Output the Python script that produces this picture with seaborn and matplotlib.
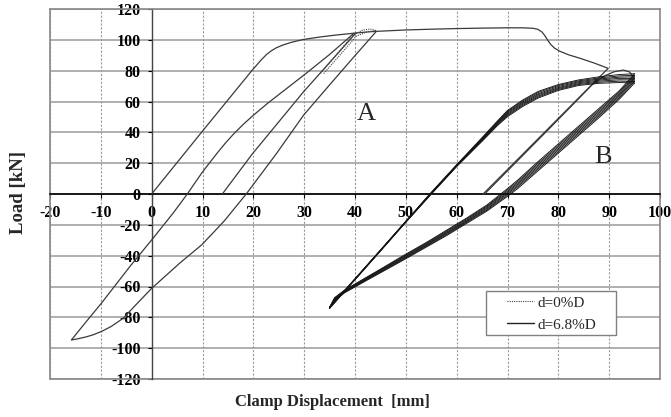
import numpy as np
import pandas as pd
import matplotlib
matplotlib.use("Agg")
import matplotlib.pyplot as plt
import seaborn as sns
from matplotlib.lines import Line2D
from matplotlib.patches import Rectangle

# ---------------- data ----------------
# initial loading -> plateau -> drop -> unloading (solid, d=6.8%D)
x_init = [0, 9.9, 19.8, 21.5, 22.6, 23.5, 24.5, 25.8, 27.5, 29.8, 33, 36, 39.8, 42, 44.2, 50, 55,
          60, 65, 70, 73, 75, 76, 76.8, 77.4, 77.9, 78.5, 79.3, 80.3, 82, 84.3, 87, 89.8,
          84, 78, 72, 65.2]
y_init = [0, 40.4, 80.4, 86.8, 90.5, 92.8, 94.8, 96.6, 98.4, 100.2, 101.8, 103, 104.3, 105, 105.5,
          106.4, 106.9, 107.3, 107.6, 107.8, 107.8, 107.5, 106.8, 105, 102.5, 99.8, 97, 94.5,
          92.6, 90.3, 88, 85, 81.5, 62.3, 42.4, 22.5, 0]

# cycle A: unloading from 44 mm, reverse loading, reloading to 40 mm
x_aloop = [44.2, 39.8, 34.8, 29.9, 24.5, 18.6, 16.5, 14.4, 12, 9.8, 5.5, 0, -3, -5.6, -8, -9.9,
           -11.5, -12.9, -14.5, -15.8, -12.9, -9.9, -4.3, 0, 4.2, 7.1, 8.5, 9.9, 11.5, 13, 14.5,
           16, 17.9, 19.8, 22.8, 25.8, 29.9, 35, 39.8]
y_aloop = [105.5, 89, 70, 51.2, 26, 0, -8.5, -17, -25.5, -33.1, -44.9, -61.2, -71.5, -80.6, -86,
           -89.2, -91.3, -92.7, -93.9, -94.7, -82.9, -70.9, -47.1, -29.8, -12.5, 0.4, 7.2, 13.8,
           20.7, 27, 33, 38.5, 44.8, 50.5, 58.8, 66.5, 77, 90.5, 104.3]

# straight unloading branch from the 40 mm peak
x_a3 = [13.9, 19.8, 29.9, 39.8, 40.3]
y_a3 = [0, 26, 66.4, 103, 104.5]

# d=0%D (dotted)
x_d0 = [33.2, 36.5, 39.6, 41.5, 43, 44.2, 42.5, 40.3, 37, 33.8]
y_d0 = [78.3, 91, 103.1, 106.3, 107, 106, 105.3, 102.5, 90, 78]

# reloading towards cycle B
x_q = [65.5, 70, 77.5, 83, 86.6, 89, 91, 92.8, 94, 94.8]
y_q = [0, 15, 40, 58.5, 70.7, 76.5, 79.3, 80.4, 79.2, 76]

# cycle B: loading branches
x_load = [35, 40, 45, 50, 55, 60, 65, 68, 70, 73, 76, 80, 84, 88, 92, 95]
l1 = [-73.5, -55, -36.4, -17.7, 1, 19, 36.6, 47.3, 54.2, 61, 66.5, 71, 74, 76, 77.5, 78]
l2 = [-73.5, -55, -36.4, -17.7, 0.9, 18.8, 36.2, 46.8, 53.6, 60.3, 65.8, 70.4, 73.4, 75.3, 76.6, 77]
l3 = [-73.8, -55.2, -36.6, -17.9, 0.7, 18.6, 35.8, 46.3, 53.0, 59.6, 65.0, 69.7, 72.8, 74.6, 75.8, 76]
l4 = [-73.8, -55.3, -36.7, -18, 0.5, 18.4, 35.4, 45.8, 52.3, 58.9, 64.3, 69.0, 72.2, 73.9, 75.0, 75]
l5 = [-74, -55.4, -36.8, -18.1, 0.3, 18.2, 35.0, 45.3, 51.6, 58.2, 63.6, 68.4, 71.6, 73.2, 74.1, 74]
l6 = [-74, -55.5, -36.9, -18.2, 0.1, 18.0, 34.6, 44.8, 50.9, 57.5, 62.9, 67.8, 71.0, 72.5, 73.2, 73]
l7 = [-74.2, -55.6, -37, -18.3, -0.1, 17.8, 34.2, 44.3, 50.2, 56.8, 62.2, 67.2, 70.4, 71.8, 72.3, 72]

# cycle B: unloading branches
x_unl = [95, 92, 88, 84, 80, 76, 72, 70, 66, 62, 58, 54, 50, 46, 42, 38, 36, 35]
u1 = [78, 67, 55.5, 44, 32.5, 21, 9, 3.5, -7, -15.5, -23.5, -31.5, -39, -46.8, -54.5, -62.2, -67.2, -73.5]
u2 = [77, 66.1, 54.5, 43, 31.5, 20, 8.1, 2.7, -7.7, -16.1, -24.1, -32, -39.5, -47.2, -54.9, -62.5, -67.5, -73.6]
u3 = [76, 65.2, 53.5, 42, 30.5, 19, 7.2, 1.8, -8.3, -16.7, -24.7, -32.5, -40, -47.6, -55.2, -62.8, -67.8, -73.7]
u4 = [75, 64.3, 52.5, 41, 29.5, 18, 6.3, 1, -9, -17.3, -25.3, -33, -40.5, -48, -55.6, -63.1, -68.1, -73.8]
u5 = [74, 63.4, 51.5, 40, 28.5, 17, 5.4, 0.2, -9.7, -17.8, -25.8, -33.5, -41, -48.5, -55.9, -63.4, -68.4, -73.9]
u6 = [73, 62.5, 50.5, 39, 27.5, 16, 4.5, -0.7, -10.3, -18.4, -26.4, -34, -41.5, -48.9, -56.2, -63.7, -68.7, -74]
u7 = [72, 61.5, 49.5, 38, 26.5, 15, 3.5, -1.5, -11, -19, -27, -34.5, -42, -49.3, -56.6, -64, -69, -74.2]

x_ticks = list(range(-20, 101, 10))
y_ticks = list(range(-120, 121, 20))
legend_labels = ["d=0%D", "d=6.8%D"]
x_label = "Clamp Displacement  [mm]"
y_label = "Load [kN]"

# ---------------- build tables ----------------
def seg_frame(segs):
    rows = []
    for name, xs, ys in segs:
        for i, (a, b) in enumerate(zip(xs, ys)):
            rows.append((name, i, a, b))
    return pd.DataFrame(rows, columns=["seg", "order", "x", "y"])

thin = seg_frame([("init", x_init, y_init), ("aloop", x_aloop, y_aloop),
                  ("a3", x_a3, y_a3), ("q", x_q, y_q)])
loads = [l1, l2, l3, l4, l5, l6, l7]
unls = [u1, u2, u3, u4, u5, u6, u7]
bundle = seg_frame([(f"l{i}", x_load, ys) for i, ys in enumerate(loads)] +
                   [(f"u{i}", x_unl, ys) for i, ys in enumerate(unls)])
dotted = seg_frame([("d0", x_d0, y_d0)])

# ---------------- plot ----------------
sns.set_theme(style="white")
plt.rcParams["font.family"] = ["Liberation Serif", "DejaVu Serif"]
plt.rcParams["axes.unicode_minus"] = False

fig = plt.figure(figsize=(6.71, 4.17), dpi=100)
ax = fig.add_axes([50 / 671, 1 - 379 / 417, 610 / 671, 370 / 417])

sns.lineplot(data=thin, x="x", y="y", units="seg", estimator=None, sort=False,
             color="#3a3a3a", lw=0.9, ax=ax, legend=False, zorder=3)
sns.lineplot(data=bundle, x="x", y="y", units="seg", estimator=None, sort=False,
             color="#141414", lw=0.65, ax=ax, legend=False, zorder=3)
sns.lineplot(data=dotted, x="x", y="y", units="seg", estimator=None, sort=False,
             color="#444444", lw=0.8, ls=(0, (1, 1)), ax=ax, legend=False, zorder=3)

ax.set_xlim(-20, 100)
ax.set_ylim(-120, 120)
ax.set_xticks(x_ticks)
ax.set_yticks(y_ticks)
ax.set_xlabel("")
ax.set_ylabel("")

ax.xaxis.grid(True, color="#9a9a9a", lw=0.8, ls=(0, (2, 1.5)))
ax.yaxis.grid(True, color="#9a9a9a", lw=1.1, ls="-")
ax.set_axisbelow(True)

ax.spines["left"].set_position(("data", 0))
ax.spines["bottom"].set_position(("data", 0))
ax.spines["left"].set_color("#444444")
ax.spines["left"].set_linewidth(1.0)
ax.spines["bottom"].set_color("#000000")
ax.spines["bottom"].set_linewidth(1.2)
for s in ["top", "right"]:
    ax.spines[s].set_color("#888888")
    ax.spines[s].set_linewidth(1.2)
ax.axvline(-20, color="#888888", lw=1.2, clip_on=False, zorder=2)
ax.axhline(-120, color="#888888", lw=1.2, clip_on=False, zorder=2)

ax.tick_params(axis="x", direction="out", length=3, width=0.8, pad=5, labelsize=11.5,
               colors="black", bottom=True)
ax.tick_params(axis="y", direction="out", length=3, width=0.8, pad=5, labelsize=11.5,
               colors="black", left=True)
for lbl in ax.get_xticklabels() + ax.get_yticklabels():
    lbl.set_fontweight("bold")

ax.text(42.2, 48, "A", ha="center", va="baseline", fontsize=19)
ax.text(88.7, 19.9, "B", ha="center", va="baseline", fontsize=19)

fig.text(332 / 671, 1 - 402 / 417, x_label, ha="center", va="center",
         fontsize=12, fontweight="bold")
fig.text(18 / 671, 1 - 192 / 417, y_label, ha="center", va="center", rotation=90,
         fontsize=13.5, fontweight="bold")

# legend box + legend
ax.add_patch(Rectangle((486 / 671, 1 - 335 / 417), 130 / 671, 44 / 417,
                       transform=fig.transFigure, fc="white", ec="#808080", lw=1,
                       clip_on=False, zorder=4))
handles = [Line2D([], [], color="#444444", lw=0.8, ls=(0, (1, 1))),
           Line2D([], [], color="#222222", lw=1.0)]
ax.legend(handles, legend_labels, frameon=False, loc="upper left",
          bbox_to_anchor=(507 / 671, 1 - 296 / 417), bbox_transform=fig.transFigure,
          borderpad=0, borderaxespad=0, handlelength=1.75, handletextpad=0.25,
          labelspacing=0.55, prop={"family": "Liberation Serif", "size": 11})

fig.savefig("out.png", dpi=100)
